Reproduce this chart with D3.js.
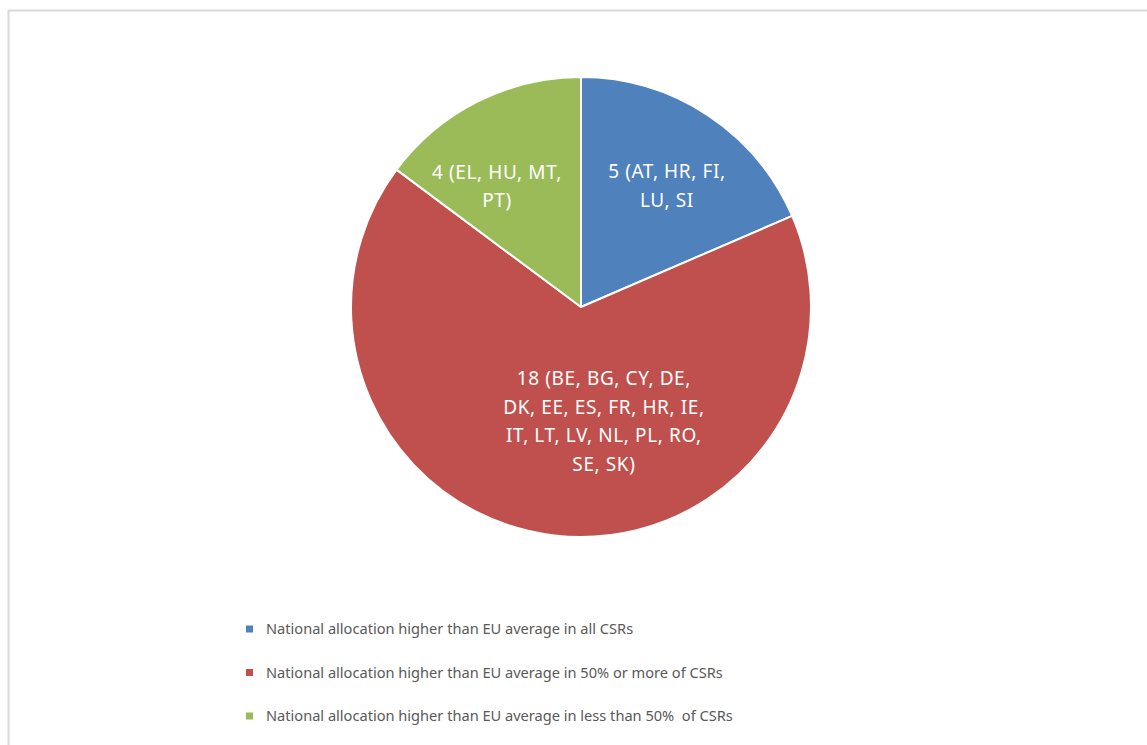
<!DOCTYPE html>
<html>
<head>
<meta charset="utf-8">
<script src="https://cdn.jsdelivr.net/npm/d3@7"></script>
<style>
    html, body { margin: 0; padding: 0; background: #fff; }
    .chart { width: 1147px; height: 745px; }
    text { font-family: 'Noto Sans', 'Open Sans', sans-serif; }
</style>
</head>
<body>
<div class="chart"></div>
<script>
(function () {
    'use strict';

    // number of member states in each group
    const categories = [
        'National allocation higher than EU average in all CSRs',
        'National allocation higher than EU average in 50% or more of CSRs',
        'National allocation higher than EU average in less than 50%  of CSRs'
    ];
    const counts = [5, 18, 4];
    const sliceLabels = [
        ['5 (AT, HR, FI,', 'LU, SI'],
        ['18 (BE, BG, CY, DE,', 'DK, EE, ES, FR, HR, IE,', 'IT, LT, LV, NL, PL, RO,', 'SE, SK)'],
        ['4 (EL, HU, MT,', 'PT)']
    ];
    const colors = ['#4f81bd', '#c0504d', '#9bbb59'];

    const width = 1147;
    const height = 745;
    const cx = 581;
    const cy = 307;
    const radius = 230;

    const svg = d3.select('.chart').append('svg')
        .attr('width', width)
        .attr('height', height);

    // chart area frame, runs off the right and bottom edges
    svg.append('rect')
        .attr('x', 8.5).attr('y', 10.5)
        .attr('width', width + 20).attr('height', height + 20)
        .style('fill', '#fff')
        .style('stroke', '#d9d9d9')
        .style('stroke-width', 2);

    const data = categories.map(function (c, i) {
        return { name: c, value: counts[i], lines: sliceLabels[i], color: colors[i] };
    });

    const pie = d3.pie().sort(null).value(function (d) { return d.value; });
    const arc = d3.arc().innerRadius(0).outerRadius(radius);
    const labelArc = d3.arc().innerRadius(radius * 0.64).outerRadius(radius * 0.64);

    const group = svg.append('g').attr('transform', 'translate(' + cx + ', ' + cy + ')');

    const slices = group.selectAll('g').data(pie(data))
        .enter().append('g');

    slices.append('path')
        .attr('d', arc)
        .style('fill', function (d) { return d.data.color; })
        .style('stroke', '#fff')
        .style('stroke-width', 2)
        .style('stroke-linejoin', 'round');

    // label boxes are shifted a little from the plain centroid
    const nudge = [[5, 2], [40, -32], [-18, 11]];
    const lineHeight = 28.5;

    slices.append('text')
        .attr('transform', function (d, i) {
            const c = labelArc.centroid(d);
            return 'translate(' + (c[0] + nudge[i][0]) + ', ' + (c[1] + nudge[i][1]) + ')';
        })
        .style('fill', '#fff')
        .style('font-size', '19px')
        .style('letter-spacing', '0.6px')
        .attr('text-anchor', 'middle')
        .selectAll('tspan')
        .data(function (d) {
            const n = d.data.lines.length;
            return d.data.lines.map(function (l, j) { return { text: l, dy: (j - (n - 1) / 2) * lineHeight }; });
        })
        .enter().append('tspan')
        .attr('x', 0)
        .attr('y', function (d) { return d.dy; })
        .attr('dy', '0.35em')
        .text(function (d) { return d.text; });

    // legend below the pie
    const legend = svg.append('g').attr('transform', 'translate(246, 629)');

    const items = legend.selectAll('g').data(data)
        .enter().append('g')
        .attr('transform', function (d, i) { return 'translate(0, ' + (i * 43.5) + ')'; });

    items.append('rect')
        .attr('x', 0).attr('y', -3.5)
        .attr('width', 7).attr('height', 7)
        .style('fill', function (d) { return d.color; });

    items.append('text')
        .attr('x', 20)
        .attr('dy', '0.35em')
        .style('font-size', '14.6px')
        .style('white-space', 'pre')
        .style('fill', '#595959')
        .text(function (d) { return d.name; });
}());
</script>
</body>
</html>
